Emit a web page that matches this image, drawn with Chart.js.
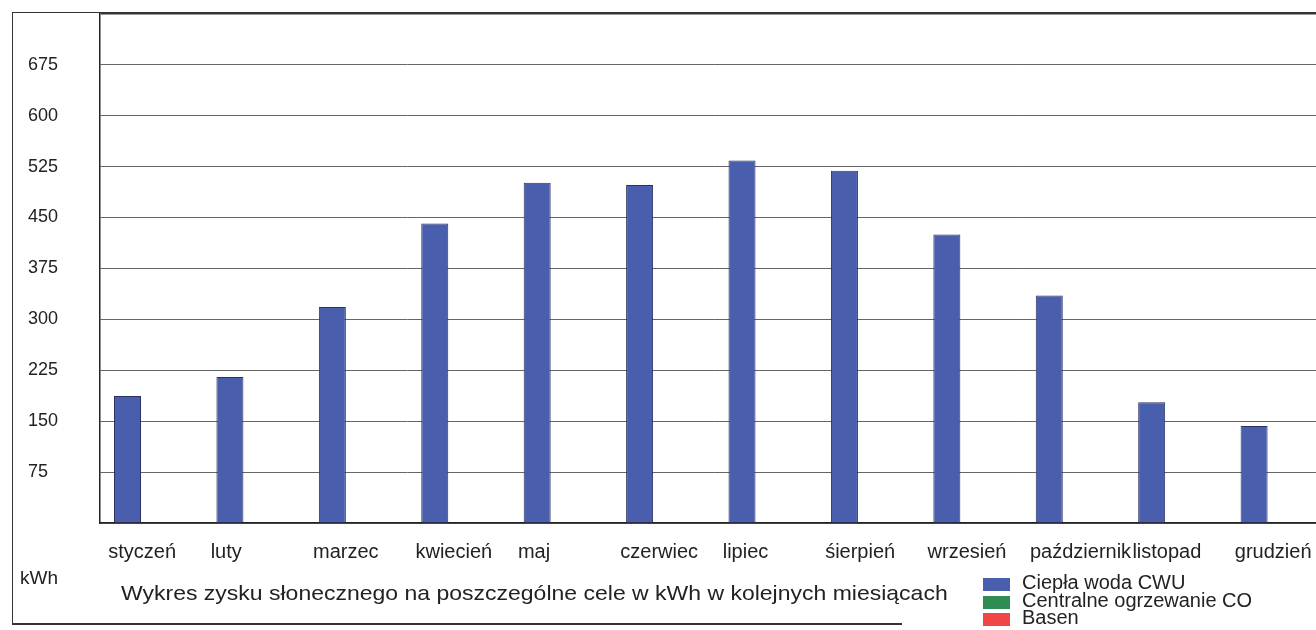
<!DOCTYPE html>
<html>
<head>
<meta charset="utf-8">
<script src="https://cdn.jsdelivr.net/npm/chart.js@4.4.0/dist/chart.umd.min.js"></script>
<style>
body{margin:0;width:1316px;height:630px;overflow:hidden;background:#fff;font-family:"Liberation Sans",Arial,sans-serif;color:#222;position:relative}
#wrap{position:absolute;left:0;top:0;width:1329px;height:630px}
.frame{position:absolute;left:12px;top:12px;width:1320px;height:611px;border-left:1.5px solid #333;border-top:1.5px solid #333}
.frameb{position:absolute;left:12px;top:623px;width:890px;border-top:2px solid #333}
#kwh{position:absolute;left:20px;top:567px;font-size:19px}
#title{position:absolute;left:121px;top:581px;font-size:21px;white-space:nowrap;transform:scaleX(1.095);transform-origin:0 0}
.leg{position:absolute;left:983px;font-size:20px;line-height:18px}
.leg i{position:absolute;left:0;width:27px;height:13px}
.leg span{position:absolute;left:39px;white-space:nowrap}
</style>
</head>
<body>
<div class="frame"></div>
<div class="frameb"></div>
<div id="wrap"><canvas id="myChart"></canvas></div>
<div id="kwh">kWh</div>
<div id="title">Wykres zysku słonecznego na poszczególne cele w kWh w kolejnych miesiącach</div>
<div class="leg" id="legend"></div>
<script>
var months=["styczeń","luty","marzec","kwiecień","maj","czerwiec","lipiec","śierpień","wrzesień","październik","listopad","grudzień"];
var cwu=[187,215,318,441,501,498,534,519,425,335,178,143];
var co=[0,0,0,0,0,0,0,0,0,0,0,0];
var basen=[0,0,0,0,0,0,0,0,0,0,0,0];
var seriesNames=["Ciepła woda CWU","Centralne ogrzewanie CO","Basen"];
var colors=["#4a5eae","#2f8c52","#f04646"];

var leg='';
for(var i=0;i<seriesNames.length;i++){
	leg+='<i style="top:'+(i*17.5-1)+'px;background:'+colors[i]+'"></i><span style="top:'+(i*17.5-6)+'px">'+seriesNames[i]+'</span>';
}
$=function(id){return document.getElementById(id);};
$("legend").innerHTML=leg;
$("legend").style.top='579px';

var ctx=$("myChart");
var myChart=new Chart(ctx,{
	type:'bar',
	data:{
		labels:months,
		datasets:[
			{label:seriesNames[0],data:cwu,backgroundColor:colors[0],borderColor:'#2b3060',borderWidth:1},
			{label:seriesNames[1],data:co,backgroundColor:colors[1],borderWidth:0},
			{label:seriesNames[2],data:basen,backgroundColor:colors[2],borderWidth:0}
		]
	},
	options:{
		responsive:true,
		maintainAspectRatio:false,
		animation:false,
		layout:{padding:{left:28,top:11,right:0,bottom:0}},
		plugins:{legend:{display:false},title:{display:false},tooltip:{enabled:false}},
		datasets:{bar:{categoryPercentage:0.694,barPercentage:1.14}},
		scales:{
			x:{
				grid:{display:false},
				border:{display:true,color:'#222',width:1.5},
				ticks:{align:'start',labelOffset:-43,padding:9,maxRotation:0,minRotation:0,autoSkip:false,color:'#222',font:{family:'"Liberation Sans", Arial',size:20}},
				afterFit:function(s){s.height=107;s.paddingRight=0;s.paddingLeft=0;}
			},
			y:{
				min:0,max:750,
				afterFit:function(s){s.width=72;},
				afterBuildTicks:function(s){
					var t=[];
					for(var v=0;v<=750;v+=75)t.push({value:v});
					s.ticks=t;
				},
				grid:{drawTicks:false,color:function(c){return c.tick&&c.tick.value==750?'#333':'#666';},lineWidth:function(c){return c.tick&&c.tick.value==750?1.5:1;}},
				border:{display:true,color:'#222',width:1.5},
				ticks:{crossAlign:'far',color:'#222',font:{family:'"Liberation Sans", Arial',size:18},
					callback:function(v){return (v==0||v==750)?'':v;}}
			}
		}
	}
});
</script>
</body>
</html>
